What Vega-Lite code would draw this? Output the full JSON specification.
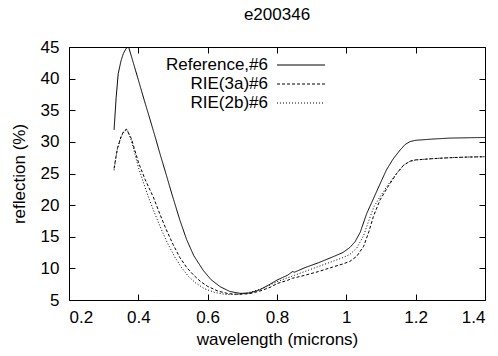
{
  "$schema": "https://vega.github.io/schema/vega-lite/v6.json",
  "autosize": {"type": "none"},
  "width": 416,
  "height": 253,
  "padding": {"left": 69, "top": 47, "right": 13, "bottom": 56},
  "background": "white",
  "title": {"text": "e200346", "font": "Liberation Sans", "fontSize": 17, "fontWeight": "normal", "color": "black", "offset": 14},
  "config": {
    "view": {"stroke": "black", "strokeWidth": 1},
    "axis": {"grid": false, "domain": false, "tickColor": "black", "tickSize": -6, "tickWidth": 1,
      "labelFont": "Liberation Sans", "labelFontSize": 17, "labelColor": "black",
      "titleFont": "Liberation Sans", "titleFontSize": 17, "titleFontWeight": "normal", "titleColor": "black"},
    "legend": {"labelFont": "Liberation Sans", "labelFontSize": 17, "labelColor": "black"}
  },
  "data": {"values": [
    {"s": "Reference,#6", "x": 0.330, "y": 31.9},
    {"s": "Reference,#6", "x": 0.336, "y": 37.0},
    {"s": "Reference,#6", "x": 0.342, "y": 40.8},
    {"s": "Reference,#6", "x": 0.350, "y": 42.8},
    {"s": "Reference,#6", "x": 0.357, "y": 44.0},
    {"s": "Reference,#6", "x": 0.365, "y": 44.8},
    {"s": "Reference,#6", "x": 0.372, "y": 45.0},
    {"s": "Reference,#6", "x": 0.385, "y": 42.6},
    {"s": "Reference,#6", "x": 0.400, "y": 39.8},
    {"s": "Reference,#6", "x": 0.417, "y": 36.6},
    {"s": "Reference,#6", "x": 0.434, "y": 33.5},
    {"s": "Reference,#6", "x": 0.448, "y": 30.9},
    {"s": "Reference,#6", "x": 0.462, "y": 28.2},
    {"s": "Reference,#6", "x": 0.480, "y": 24.9},
    {"s": "Reference,#6", "x": 0.496, "y": 21.9},
    {"s": "Reference,#6", "x": 0.520, "y": 17.6},
    {"s": "Reference,#6", "x": 0.539, "y": 14.6},
    {"s": "Reference,#6", "x": 0.560, "y": 12.0},
    {"s": "Reference,#6", "x": 0.587, "y": 9.7},
    {"s": "Reference,#6", "x": 0.610, "y": 8.2},
    {"s": "Reference,#6", "x": 0.636, "y": 7.1},
    {"s": "Reference,#6", "x": 0.664, "y": 6.35},
    {"s": "Reference,#6", "x": 0.693, "y": 6.05},
    {"s": "Reference,#6", "x": 0.720, "y": 6.1},
    {"s": "Reference,#6", "x": 0.750, "y": 6.6},
    {"s": "Reference,#6", "x": 0.780, "y": 7.5},
    {"s": "Reference,#6", "x": 0.800, "y": 8.15},
    {"s": "Reference,#6", "x": 0.830, "y": 8.9},
    {"s": "Reference,#6", "x": 0.845, "y": 9.5},
    {"s": "Reference,#6", "x": 0.850, "y": 9.4},
    {"s": "Reference,#6", "x": 0.855, "y": 9.5},
    {"s": "Reference,#6", "x": 0.880, "y": 10.1},
    {"s": "Reference,#6", "x": 0.920, "y": 10.9},
    {"s": "Reference,#6", "x": 0.960, "y": 11.8},
    {"s": "Reference,#6", "x": 0.990, "y": 12.5},
    {"s": "Reference,#6", "x": 1.010, "y": 13.3},
    {"s": "Reference,#6", "x": 1.025, "y": 14.2},
    {"s": "Reference,#6", "x": 1.040, "y": 15.7},
    {"s": "Reference,#6", "x": 1.059, "y": 18.7},
    {"s": "Reference,#6", "x": 1.078, "y": 21.0},
    {"s": "Reference,#6", "x": 1.100, "y": 23.7},
    {"s": "Reference,#6", "x": 1.116, "y": 25.6},
    {"s": "Reference,#6", "x": 1.135, "y": 27.3},
    {"s": "Reference,#6", "x": 1.155, "y": 28.7},
    {"s": "Reference,#6", "x": 1.170, "y": 29.6},
    {"s": "Reference,#6", "x": 1.184, "y": 30.05},
    {"s": "Reference,#6", "x": 1.200, "y": 30.25},
    {"s": "Reference,#6", "x": 1.250, "y": 30.45},
    {"s": "Reference,#6", "x": 1.300, "y": 30.6},
    {"s": "Reference,#6", "x": 1.350, "y": 30.65},
    {"s": "Reference,#6", "x": 1.400, "y": 30.7},
    {"s": "RIE(3a)#6", "x": 0.330, "y": 25.8},
    {"s": "RIE(3a)#6", "x": 0.335, "y": 27.5},
    {"s": "RIE(3a)#6", "x": 0.340, "y": 29.0},
    {"s": "RIE(3a)#6", "x": 0.350, "y": 30.8},
    {"s": "RIE(3a)#6", "x": 0.358, "y": 31.7},
    {"s": "RIE(3a)#6", "x": 0.366, "y": 32.0},
    {"s": "RIE(3a)#6", "x": 0.380, "y": 30.5},
    {"s": "RIE(3a)#6", "x": 0.400, "y": 26.8},
    {"s": "RIE(3a)#6", "x": 0.420, "y": 24.0},
    {"s": "RIE(3a)#6", "x": 0.443, "y": 21.3},
    {"s": "RIE(3a)#6", "x": 0.462, "y": 18.6},
    {"s": "RIE(3a)#6", "x": 0.480, "y": 16.2},
    {"s": "RIE(3a)#6", "x": 0.500, "y": 13.8},
    {"s": "RIE(3a)#6", "x": 0.520, "y": 11.7},
    {"s": "RIE(3a)#6", "x": 0.540, "y": 10.1},
    {"s": "RIE(3a)#6", "x": 0.560, "y": 8.9},
    {"s": "RIE(3a)#6", "x": 0.580, "y": 7.9},
    {"s": "RIE(3a)#6", "x": 0.600, "y": 7.15},
    {"s": "RIE(3a)#6", "x": 0.630, "y": 6.4},
    {"s": "RIE(3a)#6", "x": 0.660, "y": 6.0},
    {"s": "RIE(3a)#6", "x": 0.690, "y": 5.9},
    {"s": "RIE(3a)#6", "x": 0.720, "y": 6.0},
    {"s": "RIE(3a)#6", "x": 0.750, "y": 6.4},
    {"s": "RIE(3a)#6", "x": 0.780, "y": 7.0},
    {"s": "RIE(3a)#6", "x": 0.800, "y": 7.6},
    {"s": "RIE(3a)#6", "x": 0.830, "y": 8.1},
    {"s": "RIE(3a)#6", "x": 0.845, "y": 8.45},
    {"s": "RIE(3a)#6", "x": 0.850, "y": 8.5},
    {"s": "RIE(3a)#6", "x": 0.880, "y": 8.9},
    {"s": "RIE(3a)#6", "x": 0.920, "y": 9.5},
    {"s": "RIE(3a)#6", "x": 0.960, "y": 10.2},
    {"s": "RIE(3a)#6", "x": 0.990, "y": 10.7},
    {"s": "RIE(3a)#6", "x": 1.010, "y": 11.1},
    {"s": "RIE(3a)#6", "x": 1.030, "y": 11.9},
    {"s": "RIE(3a)#6", "x": 1.050, "y": 13.5},
    {"s": "RIE(3a)#6", "x": 1.065, "y": 15.8},
    {"s": "RIE(3a)#6", "x": 1.078, "y": 18.2},
    {"s": "RIE(3a)#6", "x": 1.097, "y": 20.8},
    {"s": "RIE(3a)#6", "x": 1.120, "y": 22.9},
    {"s": "RIE(3a)#6", "x": 1.145, "y": 25.0},
    {"s": "RIE(3a)#6", "x": 1.165, "y": 26.3},
    {"s": "RIE(3a)#6", "x": 1.184, "y": 26.95},
    {"s": "RIE(3a)#6", "x": 1.200, "y": 27.15},
    {"s": "RIE(3a)#6", "x": 1.250, "y": 27.35},
    {"s": "RIE(3a)#6", "x": 1.300, "y": 27.5},
    {"s": "RIE(3a)#6", "x": 1.350, "y": 27.6},
    {"s": "RIE(3a)#6", "x": 1.400, "y": 27.65},
    {"s": "RIE(2b)#6", "x": 0.330, "y": 25.5},
    {"s": "RIE(2b)#6", "x": 0.335, "y": 27.4},
    {"s": "RIE(2b)#6", "x": 0.340, "y": 29.0},
    {"s": "RIE(2b)#6", "x": 0.350, "y": 30.8},
    {"s": "RIE(2b)#6", "x": 0.360, "y": 31.7},
    {"s": "RIE(2b)#6", "x": 0.368, "y": 31.9},
    {"s": "RIE(2b)#6", "x": 0.380, "y": 30.2},
    {"s": "RIE(2b)#6", "x": 0.400, "y": 26.0},
    {"s": "RIE(2b)#6", "x": 0.415, "y": 23.5},
    {"s": "RIE(2b)#6", "x": 0.429, "y": 21.3},
    {"s": "RIE(2b)#6", "x": 0.445, "y": 19.0},
    {"s": "RIE(2b)#6", "x": 0.465, "y": 16.3},
    {"s": "RIE(2b)#6", "x": 0.485, "y": 13.9},
    {"s": "RIE(2b)#6", "x": 0.505, "y": 11.8},
    {"s": "RIE(2b)#6", "x": 0.525, "y": 10.1},
    {"s": "RIE(2b)#6", "x": 0.545, "y": 8.7},
    {"s": "RIE(2b)#6", "x": 0.565, "y": 7.7},
    {"s": "RIE(2b)#6", "x": 0.590, "y": 6.8},
    {"s": "RIE(2b)#6", "x": 0.620, "y": 6.2},
    {"s": "RIE(2b)#6", "x": 0.650, "y": 5.9},
    {"s": "RIE(2b)#6", "x": 0.680, "y": 5.85},
    {"s": "RIE(2b)#6", "x": 0.710, "y": 6.05},
    {"s": "RIE(2b)#6", "x": 0.740, "y": 6.5},
    {"s": "RIE(2b)#6", "x": 0.770, "y": 7.1},
    {"s": "RIE(2b)#6", "x": 0.800, "y": 7.9},
    {"s": "RIE(2b)#6", "x": 0.830, "y": 8.5},
    {"s": "RIE(2b)#6", "x": 0.850, "y": 8.9},
    {"s": "RIE(2b)#6", "x": 0.880, "y": 9.5},
    {"s": "RIE(2b)#6", "x": 0.920, "y": 10.3},
    {"s": "RIE(2b)#6", "x": 0.960, "y": 11.1},
    {"s": "RIE(2b)#6", "x": 0.990, "y": 11.7},
    {"s": "RIE(2b)#6", "x": 1.010, "y": 12.2},
    {"s": "RIE(2b)#6", "x": 1.030, "y": 13.2},
    {"s": "RIE(2b)#6", "x": 1.050, "y": 15.2},
    {"s": "RIE(2b)#6", "x": 1.065, "y": 17.6},
    {"s": "RIE(2b)#6", "x": 1.080, "y": 19.8},
    {"s": "RIE(2b)#6", "x": 1.097, "y": 21.3},
    {"s": "RIE(2b)#6", "x": 1.120, "y": 23.2},
    {"s": "RIE(2b)#6", "x": 1.145, "y": 25.0},
    {"s": "RIE(2b)#6", "x": 1.165, "y": 26.3},
    {"s": "RIE(2b)#6", "x": 1.184, "y": 26.95},
    {"s": "RIE(2b)#6", "x": 1.200, "y": 27.15},
    {"s": "RIE(2b)#6", "x": 1.250, "y": 27.35},
    {"s": "RIE(2b)#6", "x": 1.300, "y": 27.5},
    {"s": "RIE(2b)#6", "x": 1.350, "y": 27.6},
    {"s": "RIE(2b)#6", "x": 1.400, "y": 27.65}
  ]},
  "layer": [
    {
      "mark": {"type": "line", "color": "black", "strokeWidth": 1, "clip": true},
      "encoding": {
        "x": {"field": "x", "type": "quantitative", "scale": {"domain": [0.2, 1.4], "nice": false, "zero": false},
          "axis": {"orient": "bottom", "title": "wavelength (microns)", "values": [0.2, 0.4, 0.6, 0.8, 1, 1.2, 1.4], "format": "~g", "labelPadding": 15, "titlePadding": 6}},
        "y": {"field": "y", "type": "quantitative", "scale": {"domain": [5, 45], "nice": false, "zero": false},
          "axis": {"orient": "left", "title": "reflection (%)", "values": [5, 10, 15, 20, 25, 30, 35, 40, 45], "labelPadding": 16, "titlePadding": 12}},
        "strokeDash": {"field": "s", "type": "nominal",
          "scale": {"domain": ["Reference,#6", "RIE(3a)#6", "RIE(2b)#6"], "range": [[1, 0], [3, 2], [1, 2]]},
          "legend": {"title": null, "orient": "none", "legendX": 223, "legendY": 9, "padding": 0,
            "symbolType": "M-2.82,0H2.82", "symbolSize": 289, "symbolStrokeColor": "black", "symbolStrokeWidth": 1,
            "labelAlign": "right", "labelOffset": -42, "rowPadding": 2}}
      }
    },
    {
      "mark": {"type": "line", "opacity": 0},
      "encoding": {
        "x": {"field": "x", "type": "quantitative", "axis": {"orient": "top", "title": null, "labels": false, "values": [0.2, 0.4, 0.6, 0.8, 1, 1.2, 1.4]}},
        "y": {"field": "y", "type": "quantitative", "axis": {"orient": "right", "title": null, "labels": false, "values": [5, 10, 15, 20, 25, 30, 35, 40, 45]}}
      }
    }
  ],
  "resolve": {"axis": {"x": "independent", "y": "independent"}}
}
